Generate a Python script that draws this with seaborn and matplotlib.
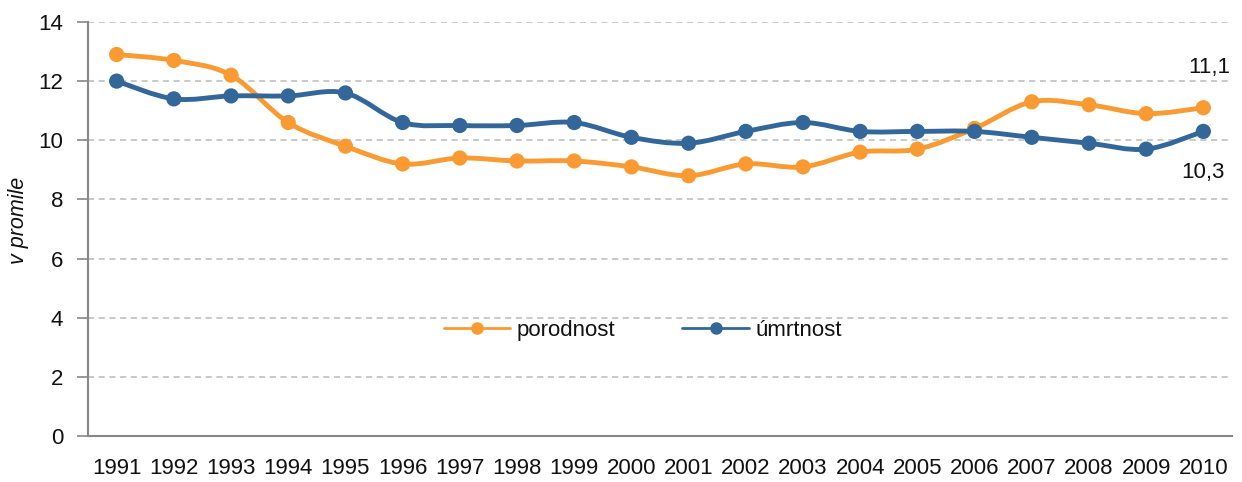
import numpy as np
import pandas as pd
import matplotlib
matplotlib.use("Agg")
import matplotlib.pyplot as plt
from matplotlib.path import Path
from matplotlib.patches import PathPatch
from matplotlib.lines import Line2D
from matplotlib.ticker import FixedLocator
import seaborn as sns

years = [str(y) for y in range(1991, 2011)]
porodnost = [12.9, 12.7, 12.2, 10.6, 9.8, 9.2, 9.4, 9.3, 9.3, 9.1,
             8.8, 9.2, 9.1, 9.6, 9.7, 10.4, 11.3, 11.2, 10.9, 11.1]
umrtnost = [12.0, 11.4, 11.5, 11.5, 11.6, 10.6, 10.5, 10.5, 10.6, 10.1,
            9.9, 10.3, 10.6, 10.3, 10.3, 10.3, 10.1, 9.9, 9.7, 10.3]
series_names = ["porodnost", "úmrtnost"]
colors = {"porodnost": "#F99B32", "úmrtnost": "#33679A"}

df = pd.DataFrame({"rok": years * 2,
                   "hodnota": porodnost + umrtnost,
                   "ukazatel": ["porodnost"] * len(years) + ["úmrtnost"] * len(years)})

sns.set_style("white")
plt.rcParams["font.family"] = ["Liberation Sans", "DejaVu Sans"]
plt.rcParams["text.color"] = "#111111"
plt.rcParams["axes.labelcolor"] = "#111111"
plt.rcParams["xtick.labelcolor"] = "#111111"
plt.rcParams["ytick.labelcolor"] = "#111111"

fig = plt.figure(figsize=(12.42, 4.82), dpi=100)
ax = fig.add_axes([0.0709, 0.0954, 0.921, 0.859])


def smooth_path(xs, ys):
    # Excel-like smoothed line as bezier segments (catmull-rom control points)
    pts = np.column_stack([xs, ys]).astype(float)
    ext = np.vstack([pts[0], pts, pts[-1]])
    verts = [pts[0]]
    codes = [Path.MOVETO]
    for i in range(len(pts) - 1):
        p0, p1, p2, p3 = ext[i], ext[i + 1], ext[i + 2], ext[i + 3]
        c1 = p1 + (p2 - p0) / 6
        c2 = p2 - (p3 - p1) / 6
        verts += [c1, c2, p2]
        codes += [Path.CURVE4] * 3
    return Path(verts, codes)


xpos = np.arange(len(years))
for i, name in enumerate(series_names):
    vals = df[df["ukazatel"] == name]["hodnota"].values
    patch = PathPatch(smooth_path(xpos, vals), facecolor="none",
                      edgecolor=colors[name], lw=3.5, zorder=3 + i * 2,
                      capstyle="round", joinstyle="round")
    ax.add_patch(patch)

sns.scatterplot(data=df, x="rok", y="hodnota", hue="ukazatel", palette=colors,
                s=120, edgecolor="none", legend=False, ax=ax, zorder=4)
# keep blue markers above orange line
for coll, z in zip(ax.collections, [4, 6]):
    coll.set_zorder(z)

ax.set_xlim(-0.5, len(years) - 0.5)
ax.set_ylim(0, 14)
ax.set_yticks(range(0, 15, 2))
ax.set_xlabel("")
ax.set_ylabel("v promile", fontsize=15.5, style="italic")
ax.yaxis.set_label_coords(-0.052, 0.52)

ax.yaxis.grid(True, linestyle=(0, (4, 3)), color="#BBBBBB", lw=1.1)
ax.set_axisbelow(True)
for s in ["top", "right"]:
    ax.spines[s].set_visible(False)
for s in ["left", "bottom"]:
    ax.spines[s].set_color("#888888")
    ax.spines[s].set_linewidth(1.5)

ax.xaxis.set_minor_locator(FixedLocator(np.arange(-0.5, len(years), 1.0)))
ax.tick_params(axis="x", which="major", length=0, pad=16, labelsize=16)
ax.tick_params(axis="x", which="minor", length=7, width=1.2, color="#888888", direction="out")
ax.tick_params(axis="y", which="major", length=8, width=1.2, color="#888888",
               direction="out", labelsize=16, pad=10, left=True)

ax.text(len(years) - 0.9, 12.1, "11,1", fontsize=16, ha="center", va="bottom")
ax.text(len(years) - 1.0, 9.25, "10,3", fontsize=16, ha="center", va="top")

handles = [Line2D([0], [0], color=colors[n], lw=2, marker="o", markersize=8) for n in series_names]
ax.legend(handles, series_names, loc="center", bbox_to_anchor=(0.485, 0.255),
          ncol=2, frameon=False, fontsize=16, handlelength=3.0, columnspacing=3.0,
          handletextpad=0.3)

fig.savefig("out.png", dpi=100)
